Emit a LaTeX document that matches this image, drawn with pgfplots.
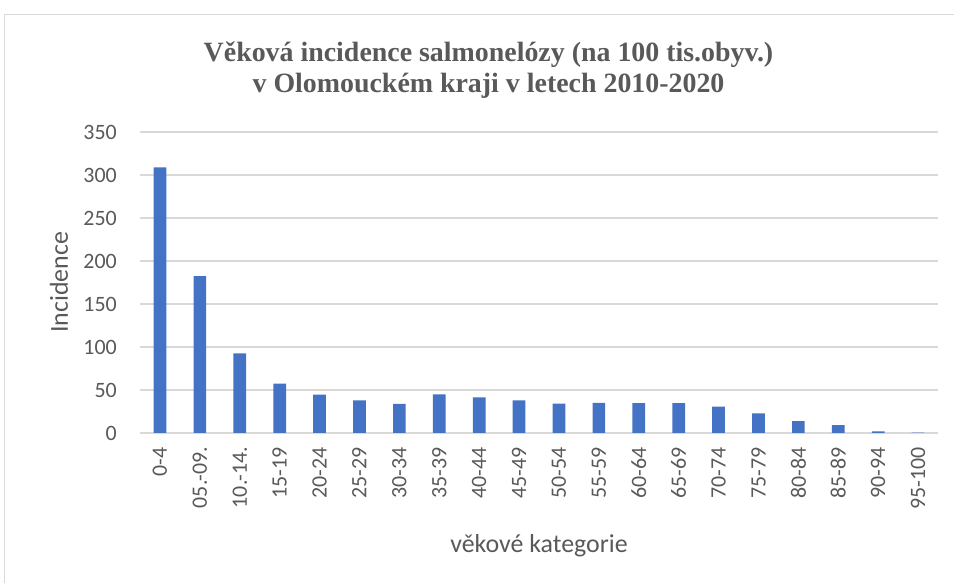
\documentclass[border=0pt]{standalone}
\usepackage{fontspec}
\setmainfont{Carlito}
\newfontfamily\titlefont{Liberation Serif}
\usepackage{pgfplots}
\pgfplotsset{compat=1.18}
\definecolor{barblue}{HTML}{4472C4}
\definecolor{txt}{HTML}{595959}
\definecolor{gridc}{HTML}{D9D9D9}
\begin{document}
\begin{tikzpicture}[x=1bp,y=1bp]
\useasboundingbox (0,0) rectangle (954,583);
\draw[gridc, line width=1.3bp] (4.5,-5) -- (4.5,568.5) -- (960,568.5);
\begin{axis}[
  at={(140bp,150bp)}, anchor=south west,
  scale only axis, width=798bp, height=301bp,
  ymin=0, ymax=350, ytick={0,50,...,350},
  xmin=-0.5, xmax=19.5,
  xtick={0,...,19},
  xticklabels={0-4,05.-09.,10.-14.,15-19,20-24,25-29,30-34,35-39,40-44,45-49,50-54,55-59,60-64,65-69,70-74,75-79,80-84,85-89,90-94,95-100},
  /pgf/number format/assume math mode=true,
  ybar, bar width=12.7bp,
  axis line style={draw=none},
  ymajorgrids, grid style={gridc, line width=1.3bp},
  major tick length=0pt,
  tick label style={font=\fontsize{22}{26}\selectfont, text=txt, inner sep=0pt},
  xticklabel style={rotate=90, anchor=east},
  xticklabel shift=14bp,
  yticklabel shift=23bp,
  xlabel={věkové kategorie},
  ylabel={Incidence},
  label style={font=\fontsize{26}{30}\selectfont, text=txt, inner sep=0pt},
  xlabel style={at={(axis description cs:0.5,-0.375)}, anchor=center},
  ylabel style={at={(axis description cs:-0.1015,0.5)}, anchor=center, rotate=0},
  title={Věková incidence salmonelózy (na 100 tis.obyv.)\\v Olomouckém kraji v letech 2010-2020},
  title style={at={(axis description cs:0.4367,1.111)}, anchor=base, align=center, inner sep=0pt,
    font=\titlefont\bfseries\fontsize{28}{31}\selectfont, text=txt},
]
\addplot[fill=barblue, draw=none] coordinates {
(0,308.8) (1,182.5) (2,92.6) (3,57.4) (4,44.5) (5,37.8) (6,33.9) (7,44.8) (8,41.3) (9,37.8)
(10,34.2) (11,35.0) (12,34.6) (13,34.6) (14,30.7) (15,22.9) (16,13.8) (17,9.1) (18,2.0) (19,0.5)
};
\end{axis}
\end{tikzpicture}
\end{document}
